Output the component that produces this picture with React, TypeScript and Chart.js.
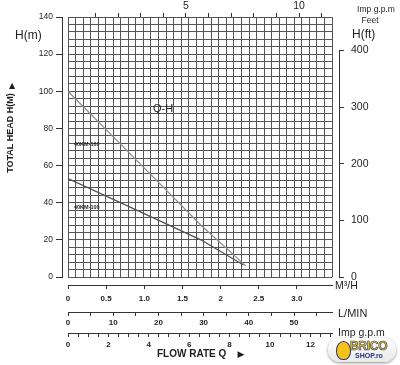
import React, { useEffect, useRef } from "react";
import { Chart, registerables } from "chart.js";

Chart.register(...registerables);

// ---- data ----
const SERIES_NAMES = ["40KM-160", "40KM-100"];
const FLOW_160 = [0, 0.75, 1.74, 2.33];
const HEAD_160 = [100, 69, 28, 6];
const FLOW_100 = [0, 0.9, 1.74, 2.3];
const HEAD_100 = [53, 36, 20, 6.5];
const CURVE_TITLE = "Q-H";

// ---- axis ticks / labels ----
const HEAD_M_TICKS = [0, 20, 40, 60, 80, 100, 120, 140];
const HEAD_FT_TICKS = [0, 100, 200, 300, 400];
const M3H_TICKS = [0, 0.5, 1, 1.5, 2, 2.5, 3];
const M3H_LABELS = ["0", "0.5", "1.0", "1.5", "2", "2.5", "3.0"];
const LMIN_TICKS = [0, 5, 10, 15, 20, 25, 30, 35, 40, 45, 50, 55];
const LMIN_LABELS = ["0", "", "10", "", "20", "", "30", "", "40", "", "50", ""];
const GPM_TICKS = [0, 0.5, 1, 1.5, 2, 2.5, 3, 3.5, 4, 4.5, 5, 5.5, 6, 6.5, 7, 7.5, 8, 8.5, 9, 9.5, 10, 10.5, 11, 11.5, 12, 12.5, 13];
const GPM_LABELS = ["0", "", "", "", "2", "", "", "", "4", "", "", "", "6", "", "", "", "8", "", "", "", "10", "", "", "", "12", "", ""];
const TOP_GPM_TICKS = [1, 2, 3, 4, 5, 6, 7, 8, 9, 10, 11];
const TOP_GPM_LABELS = ["", "", "", "", "5", "", "", "", "", "10", ""];

// ---- axis ranges ----
const HEAD_M_MAX = 140;
const HEAD_FT_MAX = 459.3;
const GRID_X_MAX = 3.5;
const GRID_X_STEP = 0.1;
const GRID_Y_STEP = 4;
const M3H_MAX = 3.46;
const LMIN_MAX = 58.4;
const GPM_MAX = 13.07;
const TOP_GPM_MIN = -0.22;
const TOP_GPM_MAX = 11.46;

const FONT = "'Liberation Sans', Arial, sans-serif";
const INK = "#1e1e1e";
const GRID = "#555555";

const setTicks = (vals: number[]) => (scale: any) => {
  scale.ticks = vals.map((v) => ({ value: v }));
};

const overlayPlugin = {
  id: "overlayText",
  afterDraw(chart: any) {
    const ctx = chart.ctx as CanvasRenderingContext2D;
    const ft = chart.scales.yFt;
    ctx.save();
    // right (feet) axis line, spanning 0..400 ft
    ctx.strokeStyle = "#333";
    ctx.lineWidth = 1;
    const bx = Math.round(ft.left) + 0.5;
    ctx.beginPath();
    ctx.moveTo(bx, ft.getPixelForValue(HEAD_FT_TICKS[HEAD_FT_TICKS.length - 1]));
    ctx.lineTo(bx, ft.getPixelForValue(0));
    ctx.stroke();

    const t = (s: string, x: number, y: number, font: string, align: CanvasTextAlign = "left") => {
      ctx.font = font;
      ctx.fillStyle = INK;
      ctx.textAlign = align;
      ctx.textBaseline = "middle";
      ctx.fillText(s, x, y);
    };
    t("H(m)", 15, 36, `12px ${FONT}`);
    t("▲", 12, 86, `8px 'DejaVu Sans', sans-serif`, "center");
    ctx.save();
    ctx.translate(11, 133);
    ctx.rotate(-Math.PI / 2);
    t("TOTAL HEAD H(M)", 0, 0, `bold 9px ${FONT}`, "center");
    ctx.restore();
    t(CURVE_TITLE, 153, 109, `11px ${FONT}`);
    t(SERIES_NAMES[0], 74, 144, `bold 5.5px ${FONT}`);
    t(SERIES_NAMES[1], 74, 207, `bold 5.5px ${FONT}`);
    t("Imp g.p.m", 376, 10, `8.5px ${FONT}`, "center");
    t("Feet", 370, 21, `8.5px ${FONT}`, "center");
    t("H(ft)", 352, 35, `12px ${FONT}`);
    t("M³/H", 335, 286, `10.5px ${FONT}`);
    t("L/MIN", 338, 314, `11px ${FONT}`);
    t("Imp g.p.m", 338, 333, `10.5px ${FONT}`);
    t("FLOW RATE Q", 157, 354, `bold 10px ${FONT}`);
    t("▶", 241, 355, `9px 'DejaVu Sans', sans-serif`, "center");
    ctx.restore();
  },
};

export default function App() {
  const ref = useRef<HTMLCanvasElement | null>(null);

  useEffect(() => {
    if (!ref.current) return;
    const tickFont = (size: number, weight: any = "normal") => ({ family: FONT, size, weight });
    const chart = new Chart(ref.current, {
      type: "line",
      data: {
        datasets: [
          {
            label: SERIES_NAMES[0],
            data: FLOW_160.map((q, i) => ({ x: q, y: HEAD_160[i] })),
            borderColor: "#8f8f8f",
            borderWidth: 1.3,
            pointRadius: 0,
            tension: 0,
            xAxisID: "m3h",
            yAxisID: "yLeft",
          },
          {
            label: SERIES_NAMES[1],
            data: FLOW_100.map((q, i) => ({ x: q, y: HEAD_100[i] })),
            borderColor: "#505050",
            borderWidth: 1.2,
            pointRadius: 0,
            tension: 0,
            xAxisID: "m3h",
            yAxisID: "yLeft",
          },
        ],
      },
      options: {
        animation: false,
        responsive: false,
        devicePixelRatio: 1,
        layout: { padding: 0 },
        plugins: { legend: { display: false }, tooltip: { enabled: false } },
        scales: {
          // grid (vertical lines) + spacer below plot
          xg: {
            type: "linear",
            position: "bottom",
            weight: 0,
            min: 0,
            max: GRID_X_MAX,
            ticks: { display: false, stepSize: GRID_X_STEP },
            grid: { color: GRID, lineWidth: 1, drawTicks: false },
            border: { display: false },
            afterFit: (s: any) => { s.height = 8; },
          },
          m3h: {
            type: "linear",
            position: "bottom",
            weight: 1,
            min: 0,
            max: M3H_MAX,
            afterBuildTicks: setTicks(M3H_TICKS),
            ticks: {
              autoSkip: false,
              maxRotation: 0,
              padding: 5,
              color: INK,
              font: tickFont(8, "bold"),
              callback: (_v: any, i: number) => M3H_LABELS[i],
            },
            grid: { drawOnChartArea: false, tickLength: 4, color: "#333" },
            border: { display: true, color: "#333", width: 1 },
            afterFit: (s: any) => { s.height = 27; },
          },
          lmin: {
            type: "linear",
            position: "bottom",
            weight: 2,
            min: 0,
            max: LMIN_MAX,
            afterBuildTicks: setTicks(LMIN_TICKS),
            ticks: {
              autoSkip: false,
              maxRotation: 0,
              padding: 2,
              color: INK,
              font: tickFont(8, "bold"),
              callback: (_v: any, i: number) => LMIN_LABELS[i],
            },
            grid: { drawOnChartArea: false, tickLength: 4, color: "#333" },
            border: { display: true, color: "#333", width: 1 },
            afterFit: (s: any) => { s.height = 21; },
          },
          gpm: {
            type: "linear",
            position: "bottom",
            weight: 3,
            min: 0,
            max: GPM_MAX,
            afterBuildTicks: setTicks(GPM_TICKS),
            ticks: {
              autoSkip: false,
              maxRotation: 0,
              padding: 3,
              color: INK,
              font: tickFont(8, "bold"),
              callback: (_v: any, i: number) => GPM_LABELS[i],
            },
            grid: { drawOnChartArea: false, tickLength: 4, color: "#333" },
            border: { display: true, color: "#333", width: 1 },
            afterFit: (s: any) => { s.height = 32; },
          },
          xTop: {
            type: "linear",
            position: "top",
            min: TOP_GPM_MIN,
            max: TOP_GPM_MAX,
            afterBuildTicks: setTicks(TOP_GPM_TICKS),
            ticks: {
              autoSkip: false,
              maxRotation: 0,
              padding: 1,
              color: INK,
              font: tickFont(10.5),
              callback: (_v: any, i: number) => TOP_GPM_LABELS[i],
            },
            grid: { drawOnChartArea: false, tickLength: 4, color: "#333" },
            border: { display: false },
            afterFit: (s: any) => { s.height = 17; },
          },
          // grid (horizontal lines) + spacer left of plot
          yg: {
            type: "linear",
            position: "left",
            weight: 0,
            min: 0,
            max: HEAD_M_MAX,
            ticks: { display: false, stepSize: GRID_Y_STEP },
            grid: { color: GRID, lineWidth: 1, drawTicks: false },
            border: { display: false },
            afterFit: (s: any) => { s.width = 6; },
          },
          yLeft: {
            type: "linear",
            position: "left",
            weight: 1,
            min: 0,
            max: HEAD_M_MAX,
            afterBuildTicks: setTicks(HEAD_M_TICKS),
            ticks: { padding: 3, color: INK, font: tickFont(8.5) },
            grid: { drawOnChartArea: false, tickLength: 6, color: "#333" },
            border: { display: true, color: "#333", width: 1 },
            afterFit: (s: any) => { s.width = 62; },
          },
          yGapR: {
            type: "linear",
            position: "right",
            weight: 0,
            min: 0,
            max: HEAD_M_MAX,
            ticks: { display: false },
            grid: { display: false },
            border: { display: false },
            afterFit: (s: any) => { s.width = 7; },
          },
          yFt: {
            type: "linear",
            position: "right",
            weight: 1,
            min: 0,
            max: HEAD_FT_MAX,
            afterBuildTicks: setTicks(HEAD_FT_TICKS),
            ticks: { padding: 7, color: INK, font: tickFont(10.5) },
            grid: { drawOnChartArea: false, tickLength: 5, color: "#333" },
            border: { display: false },
            afterFit: (s: any) => { s.width = 61; },
          },
        },
      } as any,
      plugins: [overlayPlugin],
    });
    return () => chart.destroy();
  }, []);

  return (
    <div style={{ position: "fixed", left: 0, top: 0, width: 400, height: 365, background: "#fff" }}>
      <canvas ref={ref} width={400} height={365} style={{ width: 400, height: 365, display: "block" }} />
      <div
        style={{
          position: "absolute",
          left: 328,
          top: 338,
          width: 68,
          height: 24,
          borderRadius: 12,
          background: "linear-gradient(#ffffff, #e9e9e9)",
          boxShadow: "0 1px 3px rgba(0,0,0,0.45)",
          fontFamily: FONT,
        }}
      >
        <div
          style={{
            position: "absolute",
            left: 8,
            top: 3,
            width: 13,
            height: 17,
            borderRadius: "50% 50% 45% 45%",
            background: "#f6c21a",
            border: "1px solid #2a3a7a",
          }}
        />
        <div
          style={{
            position: "absolute",
            left: 22,
            top: 1,
            fontSize: 12,
            fontWeight: "bold",
            color: "#f7c600",
            WebkitTextStroke: "0.6px #2a3a7a",
            letterSpacing: -0.3,
          }}
        >
          BRICO
        </div>
        <div
          style={{
            position: "absolute",
            left: 27,
            top: 14,
            fontSize: 7,
            fontWeight: "bold",
            color: "#223377",
          }}
        >
          SHOP.ro
        </div>
      </div>
    </div>
  );
}
